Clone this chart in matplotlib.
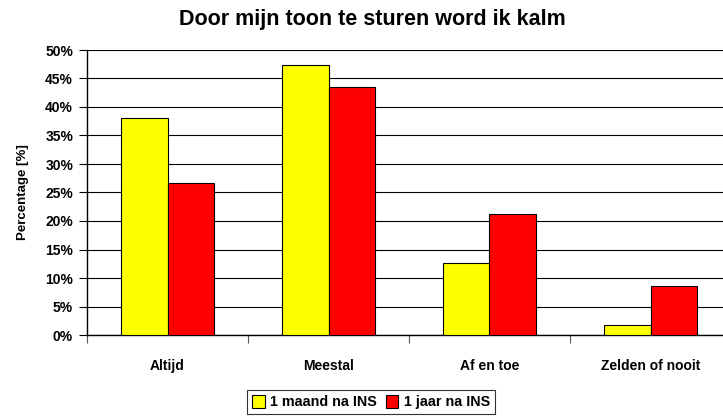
import matplotlib
matplotlib.use("Agg")
import matplotlib.pyplot as plt
import numpy as np
from matplotlib.ticker import PercentFormatter

plt.rcParams['font.family'] = ['Liberation Sans', 'DejaVu Sans']

categories = ["Altijd", "Meestal", "Af en toe", "Zelden of nooit"]
series_names = ["1 maand na INS", "1 jaar na INS"]
maand = [38.1, 47.4, 12.7, 1.7]
jaar = [26.7, 43.5, 21.2, 8.6]
colors = ["#FFFF00", "#FF0000"]

fig = plt.figure(figsize=(7.23, 4.19), dpi=100)
ax = fig.add_axes([87/723, 84/419, 644/723, 285/419])

x = np.arange(len(categories))
w = 0.286
for vals, off, c, name in [(maand, -w/2, colors[0], series_names[0]), (jaar, w/2, colors[1], series_names[1])]:
    ax.bar(x + off, vals, width=w, color=c, edgecolor="black", linewidth=0.8, label=name, zorder=3)

ax.set_xlim(-0.5, 3.5)
ax.set_ylim(0, 50)
ax.set_yticks(np.arange(0, 51, 5))
ax.yaxis.set_major_formatter(PercentFormatter(decimals=0))
ax.yaxis.grid(True, color="black", linewidth=0.8, zorder=0)
ax.set_axisbelow(True)
for s in ["top", "right"]:
    ax.spines[s].set_visible(False)
ax.spines["left"].set_linewidth(1.0)
ax.spines["bottom"].set_linewidth(1.0)

ax.set_xticks(np.arange(-0.5, 3.6, 1.0))
ax.set_xticklabels([])
ax.set_xticks(x, minor=True)
ax.set_xticklabels(categories, minor=True, fontsize=10, fontweight="bold")
ax.tick_params(axis="x", which="minor", length=0, pad=17)
ax.tick_params(axis="x", which="major", length=6, direction="out", color="#555555")
ax.tick_params(axis="y", length=6, direction="out", labelsize=10, pad=4)
for lab in ax.get_yticklabels():
    lab.set_fontweight("bold")

ax.set_ylabel("Percentage [%]", fontsize=9.5, fontweight="bold", labelpad=12)
fig.text(372/723, 1 - 19/419, "Door mijn toon te sturen word ik kalm", ha="center", va="center",
         fontsize=15.5, fontweight="bold")

leg = fig.legend(loc="center", bbox_to_anchor=(371/723, 1 - 402/419), ncol=2, frameon=True,
                 fancybox=False, edgecolor="black", prop={"weight": "bold", "size": 10.3},
                 handlelength=0.9, handleheight=1.0, handletextpad=0.4, columnspacing=0.6,
                 borderpad=0.35, borderaxespad=0)
leg.get_frame().set_linewidth(0.8)

fig.savefig("out.png", dpi=100)
